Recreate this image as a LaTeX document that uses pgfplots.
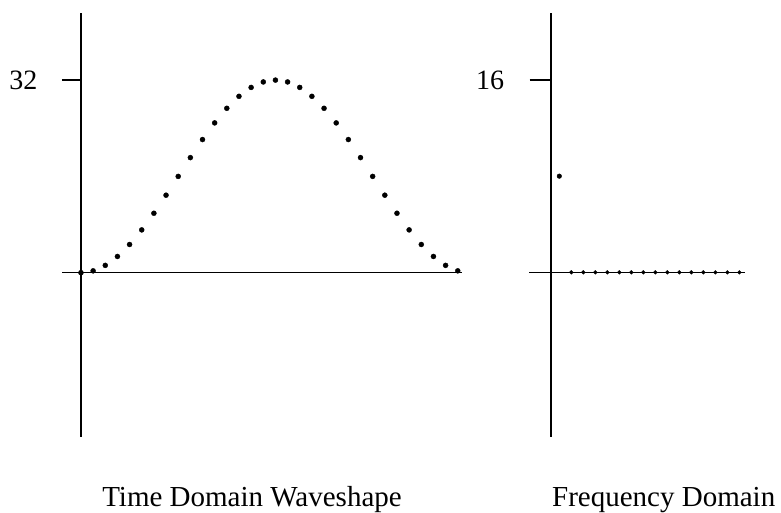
\documentclass[border=0pt]{standalone}
\usepackage{fontspec}
\setmainfont{Liberation Serif}
\usepackage{pgfplots}
\pgfplotsset{compat=1.18}
\begin{document}
\begin{tikzpicture}
\path[use as bounding box] (0pt,0pt) rectangle (781pt,513pt);
\begin{axis}[
  at={(62pt,76pt)}, anchor=south west,
  scale only axis, width=400pt, height=424.3pt,
  xmin=-1.56, xmax=31.35, ymin=-27.3, ymax=43.2,
  axis lines=middle, axis line style={-, line width=1.6pt, black},
  xtick=\empty, ytick={32},
  tick align=outside, major tick length=19pt,
  tick style={line width=1.6pt, black},
  yticklabel style={font=\fontsize{28}{30}\selectfont, xshift=-21pt},
  /pgf/number format/assume math mode=true,
  clip=false,
]
\addplot[only marks, mark=*, mark size=2.5pt, black] coordinates {
(0,0) (1,0.307) (2,1.218) (3,2.697) (4,4.686) (5,7.111) (6,9.877) (7,12.879)
(8,16) (9,19.121) (10,22.123) (11,24.889) (12,27.314) (13,29.304) (14,30.782) (15,31.693)
(16,32) (17,31.693) (18,30.782) (19,29.304) (20,27.314) (21,24.889) (22,22.123) (23,19.121)
(24,16) (25,12.879) (26,9.877) (27,7.111) (28,4.686) (29,2.697) (30,1.218) (31,0.307)
};
\end{axis}
\begin{axis}[
  at={(529pt,76pt)}, anchor=south west,
  scale only axis, width=216pt, height=424.3pt,
  xmin=-2.525, xmax=15.47, ymin=-13.7, ymax=21.6,
  axis lines=middle, axis line style={-, line width=1.6pt, black},
  axis y line shift=8.6pt,
  xtick=\empty, ytick={16},
  tick align=outside, major tick length=21pt,
  tick style={line width=1.6pt, black},
  yticklabel style={font=\fontsize{28}{30}\selectfont, xshift=-22pt},
  /pgf/number format/assume math mode=true,
  clip=false,
]
\addplot[only marks, mark=*, mark size=2.3pt, black] coordinates {
(0,8)
};
\addplot[only marks, mark=*, mark size=1.9pt, black] coordinates {
(1,0) (2,0) (3,0) (4,0) (5,0) (6,0) (7,0) (8,0)
(9,0) (10,0) (11,0) (12,0) (13,0) (14,0) (15,0)
};
\end{axis}
\node[font=\fontsize{29}{32}\selectfont, anchor=base, inner sep=0pt] at (252pt,6pt) {Time Domain Waveshape};
\node[font=\fontsize{29}{32}\selectfont, anchor=base west, inner sep=0pt] at (552pt,6pt) {Frequency Domain};
\end{tikzpicture}
\end{document}
